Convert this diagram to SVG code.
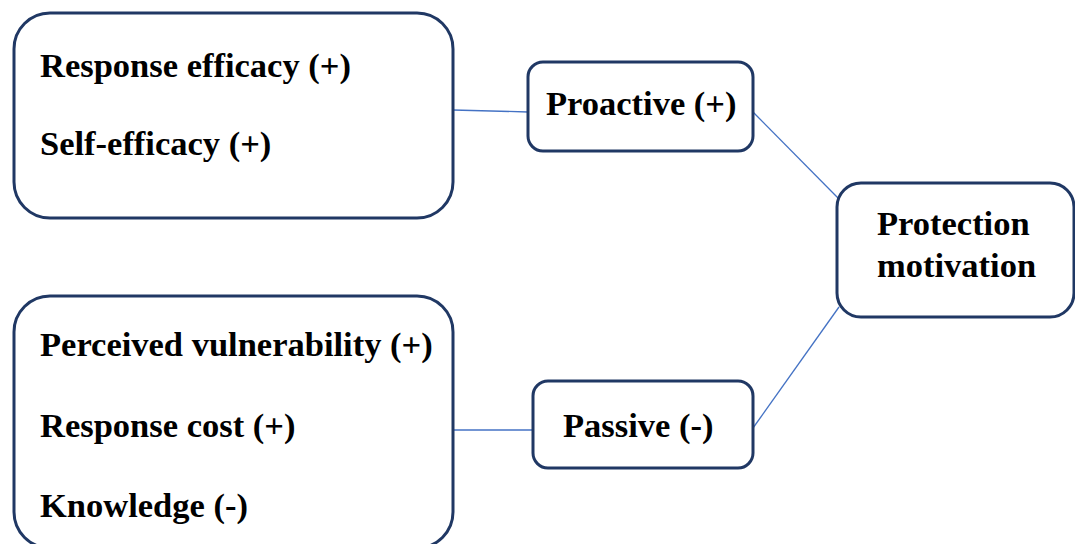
<svg xmlns="http://www.w3.org/2000/svg" width="1075" height="544" viewBox="0 0 1075 544">
<style>
.box{fill:#fff;stroke:#203864;stroke-width:3}
.t{font-family:"Liberation Serif","Times New Roman",serif;font-weight:bold;font-size:34.5px;fill:#000}
.c{stroke:#4472C4;stroke-width:1.3;fill:none}
</style>
<rect width="1075" height="544" fill="#fff"/>
<g id="connectors">
<line class="c" x1="453" y1="110" x2="528" y2="112"/>
<line class="c" x1="753" y1="112" x2="838" y2="198"/>
<line class="c" x1="453" y1="430" x2="533" y2="430"/>
<line class="c" x1="753" y1="428" x2="839" y2="307"/>
</g>
<g id="n_coping">
<rect class="box" x="14" y="13" width="439" height="205" rx="36"/>
<text class="t" x="40" y="77">Response efficacy (+)</text>
<text class="t" x="40" y="155">Self-efficacy (+)</text>
</g>
<g id="n_threat">
<rect class="box" x="14" y="296" width="439" height="252" rx="36"/>
<text class="t" x="40" y="356">Perceived vulnerability (+)</text>
<text class="t" x="40" y="437">Response cost (+)</text>
<text class="t" x="40" y="517">Knowledge (-)</text>
</g>
<g id="n_proactive">
<rect class="box" x="528" y="62" width="225" height="89" rx="15"/>
<text class="t" x="546" y="115">Proactive (+)</text>
</g>
<g id="n_passive">
<rect class="box" x="533" y="381" width="220" height="87" rx="15"/>
<text class="t" x="563" y="437">Passive (-)</text>
</g>
<g id="n_protection">
<rect class="box" x="837" y="183" width="237" height="134" rx="24"/>
<text class="t" x="877" y="235">Protection</text>
<text class="t" x="877" y="277">motivation</text>
</g>
</svg>
